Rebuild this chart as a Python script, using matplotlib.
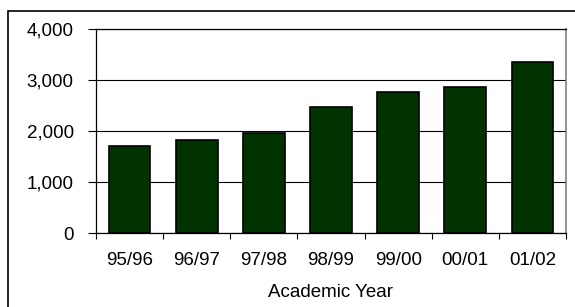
"""Bar chart: enrolment by academic year."""

import matplotlib
matplotlib.use("Agg")
import matplotlib.pyplot as plt
from matplotlib.patches import Rectangle
from matplotlib.ticker import FuncFormatter, FixedLocator
import numpy as np

years = ["95/96", "96/97", "97/98", "98/99", "99/00", "00/01", "01/02"]
values = [1710, 1815, 1965, 2470, 2760, 2870, 3345]
y_ticks = [0, 1000, 2000, 3000, 4000]

plt.rcParams["font.family"] = ["Liberation Sans", "DejaVu Sans"]
plt.rcParams["font.size"] = 13.5

W, H = 575, 307
fig = plt.figure(figsize=(W / 100, H / 100), dpi=100)

# outer chart frame (cut off on the right and bottom, like the original)
fig.patches.append(Rectangle((8 / W, -0.05), 1.1, (H - 11) / H + 0.05,
                             transform=fig.transFigure, fill=False,
                             edgecolor="black", linewidth=1.2))

ax = fig.add_axes([96 / W, (H - 233) / H, 470 / W, 204 / H])
x = np.arange(len(years))
ax.bar(x, values, width=0.62, color="#003300", edgecolor="black",
       linewidth=1.2, zorder=3)

ax.set_xlim(-0.5, len(years) - 0.5)
ax.set_ylim(0, 4000)
ax.set_yticks(y_ticks)
ax.yaxis.set_major_formatter(FuncFormatter(lambda v, _: f"{v:,.0f}"))
ax.grid(axis="y", color="black", linewidth=0.8, zorder=0)

# category labels centred, tick marks at category boundaries
ax.set_xticks(x)
ax.set_xticklabels(years)
ax.tick_params(axis="x", which="major", length=0, pad=13.5)
ax.xaxis.set_minor_locator(FixedLocator(np.arange(len(years) + 1) - 0.5))
ax.tick_params(axis="x", which="minor", length=4, width=0.8)
ax.tick_params(axis="y", length=6, width=0.8, pad=10)
ax.set_xlabel("Academic Year", labelpad=11)

for side in ("left", "bottom"):
    ax.spines[side].set_linewidth(0.9)
ax.spines["top"].set_linewidth(0.9)
ax.spines["right"].set_color("#808080")
ax.spines["right"].set_linewidth(1.2)

fig.savefig("out.png", dpi=100)
